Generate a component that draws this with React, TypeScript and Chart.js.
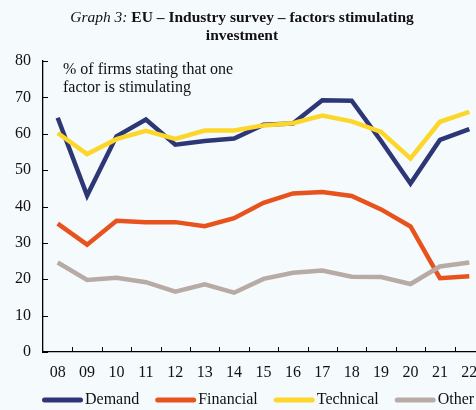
import React, { useEffect, useRef } from "react";
import { Chart, registerables } from "chart.js";

Chart.register(...registerables);

const years = ["08", "09", "10", "11", "12", "13", "14", "15", "16", "17", "18", "19", "20", "21", "22"];
const demand = [64.4, 43.0, 59.3, 63.9, 57.0, 58.0, 58.7, 62.5, 62.8, 69.2, 69.1, 58.0, 46.3, 58.3, 61.3];
const financial = [35.3, 29.5, 36.1, 35.7, 35.7, 34.6, 36.8, 41.0, 43.6, 44.0, 42.9, 39.2, 34.5, 20.3, 20.8];
const technical = [60.2, 54.4, 58.5, 60.8, 58.6, 60.9, 60.9, 62.3, 62.9, 65.0, 63.4, 60.5, 53.2, 63.3, 66.0];
const other = [24.6, 19.8, 20.4, 19.2, 16.6, 18.6, 16.3, 20.1, 21.8, 22.4, 20.7, 20.6, 18.7, 23.5, 24.6];

const seriesNames = ["Demand", "Financial", "Technical", "Other"];
const seriesColors = ["#2e3776", "#e8521d", "#fdd62a", "#b8aba5"];
const yTicks = [0, 10, 20, 30, 40, 50, 60, 70, 80];
const noteLines = ["% of firms stating that one", "factor is stimulating"];

const FONT = "'Liberation Serif', 'Times New Roman', serif";
const BG = "#f5fafd";

const decorPlugin = {
  id: "decor",
  afterDraw(chart: any) {
    const ctx = chart.ctx as CanvasRenderingContext2D;
    const xS = chart.scales.x;
    const yS = chart.scales.y;
    ctx.save();
    // inside tick marks
    ctx.strokeStyle = "#000";
    ctx.lineWidth = 1;
    yS.ticks.forEach((t: any) => {
      const py = Math.round(yS.getPixelForValue(t.value)) + 0.5;
      ctx.beginPath();
      ctx.moveTo(xS.left, py);
      ctx.lineTo(xS.left + 5, py);
      ctx.stroke();
    });
    const n = xS.ticks.length;
    const w = (xS.right - xS.left) / n;
    for (let i = 1; i <= n; i++) {
      const px = Math.round(xS.left + i * w) + 0.5;
      ctx.beginPath();
      ctx.moveTo(px, yS.bottom);
      ctx.lineTo(px, yS.bottom - 5);
      ctx.stroke();
    }
    // note text
    ctx.fillStyle = "#111";
    ctx.font = `16px ${FONT}`;
    ctx.textBaseline = "middle";
    ctx.textAlign = "left";
    noteLines.forEach((s, i) => ctx.fillText(s, 63, 70 + i * 18));
    // legend
    let x = 42;
    const ly = 400;
    chart.data.datasets.forEach((ds: any) => {
      ctx.strokeStyle = ds.borderColor;
      ctx.lineWidth = 5;
      ctx.lineCap = "round";
      ctx.beginPath();
      ctx.moveTo(x + 2.5, ly);
      ctx.lineTo(x + 38.5, ly);
      ctx.stroke();
      ctx.fillStyle = "#111";
      ctx.fillText(ds.label, x + 43, ly);
      x = x + 43 + ctx.measureText(ds.label).width + 16;
    });
    ctx.restore();
  },
};

export default function App() {
  const ref = useRef<HTMLCanvasElement | null>(null);

  useEffect(() => {
    if (!ref.current) return;
    const values = [demand, financial, technical, other];
    const chart = new Chart(ref.current, {
      type: "line",
      data: {
        labels: years,
        datasets: values.map((v, i) => ({
          label: seriesNames[i],
          data: v,
          borderColor: seriesColors[i],
          backgroundColor: seriesColors[i],
          borderWidth: 4.5,
          pointRadius: 0,
          tension: 0,
          fill: false,
          order: 4 - i,
        })),
      },
      options: {
        animation: false,
        responsive: false,
        layout: { padding: { left: 0, right: 6, top: 61, bottom: 0 } },
        plugins: {
          legend: { display: false },
          tooltip: { enabled: false },
          title: { display: false },
        },
        scales: {
          x: {
            type: "category",
            offset: true,
            grid: { display: false, drawTicks: false },
            border: { display: true, color: "#000", width: 1.3 },
            ticks: {
              color: "#111",
              font: { family: FONT, size: 16 },
              padding: 11,
              maxRotation: 0,
              autoSkip: false,
            },
            afterFit: (s: any) => {
              s.height = 58;
            },
          },
          y: {
            min: yTicks[0],
            max: yTicks[yTicks.length - 1],
            grid: { display: false, drawTicks: false },
            border: { display: true, color: "#000", width: 1.3 },
            ticks: {
              stepSize: 10,
              color: "#111",
              font: { family: FONT, size: 16 },
              padding: 12,
            },
            afterFit: (s: any) => {
              s.width = 43;
            },
          },
        },
      },
      plugins: [decorPlugin],
    });
    return () => chart.destroy();
  }, []);

  return (
    <div
      style={{
        position: "fixed",
        left: 0,
        top: 0,
        width: 476,
        height: 410,
        overflow: "hidden",
        background: BG,
      }}
    >
      <canvas ref={ref} width={490} height={410} style={{ position: "absolute", left: 0, top: 0, display: "block" }} />
      <div
        style={{
          position: "absolute",
          left: 0,
          top: 8,
          width: 484,
          textAlign: "center",
          fontFamily: FONT,
          fontSize: "15.5px",
          lineHeight: "18px",
          color: "#111",
        }}
      >
        <span style={{ fontStyle: "italic" }}>Graph 3:</span>{" "}
        <b>EU – Industry survey – factors stimulating</b>
        <br />
        <b>investment</b>
      </div>
    </div>
  );
}
